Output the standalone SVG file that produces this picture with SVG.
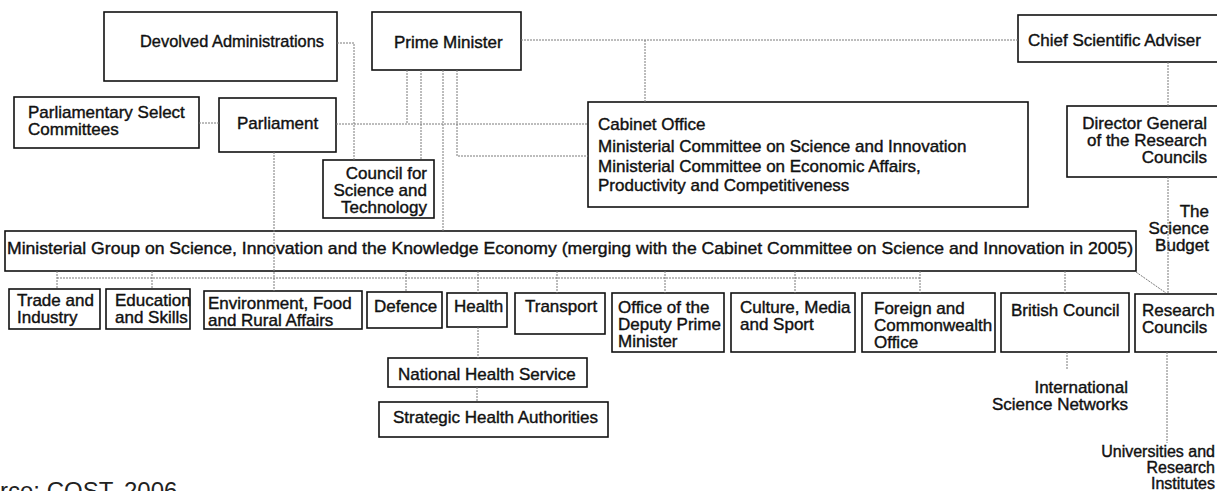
<svg xmlns="http://www.w3.org/2000/svg" width="1217" height="491" viewBox="0 0 1217 491">
  <style>
    .box { fill: #fff; stroke: #111; stroke-width: 1.6; }
    .t { font-family: "Liberation Sans", Arial, sans-serif; font-size: 17px; fill: #111; stroke: #111; stroke-width: 0.4; }
    .r { text-anchor: end; }
    .s16 { font-size: 16px; }
    .c { fill: none; stroke: #7a7a7a; stroke-width: 1; stroke-dasharray: 2 1; }
  </style>
  <rect width="1217" height="491" fill="#fff"/>

  <g id="devolved">
    <rect class="box" x="104" y="12" width="233" height="69"/>
    <text class="t" x="140" y="47" textLength="184" lengthAdjust="spacingAndGlyphs">Devolved Administrations</text>
  </g>
  <g id="prime-minister">
    <rect class="box" x="372" y="12" width="149" height="58"/>
    <text class="t" x="394" y="48">Prime Minister</text>
  </g>
  <g id="chief-scientific-adviser">
    <rect class="box" x="1018" y="15" width="205" height="47"/>
    <text class="t" x="1028" y="46">Chief Scientific Adviser</text>
  </g>
  <g id="select-committees">
    <rect class="box" x="14" y="97" width="185" height="51"/>
    <text class="t" x="28" y="118">Parliamentary Select</text>
    <text class="t" x="28" y="135">Committees</text>
  </g>
  <g id="parliament">
    <rect class="box" x="219" y="98" width="117" height="54"/>
    <text class="t" x="237" y="129">Parliament</text>
  </g>
  <g id="council">
    <rect class="box" x="323" y="160" width="111" height="58"/>
    <text class="t r" x="427" y="179">Council for</text>
    <text class="t r" x="427" y="196">Science and</text>
    <text class="t r" x="427" y="213">Technology</text>
  </g>
  <g id="cabinet-office">
    <rect class="box" x="588" y="102" width="440" height="105"/>
    <text class="t" x="598" y="130">Cabinet Office</text>
    <text class="t" x="598" y="152">Ministerial Committee on Science and Innovation</text>
    <text class="t" x="598" y="172">Ministerial Committee on Economic Affairs,</text>
    <text class="t" x="598" y="191">Productivity and Competitiveness</text>
  </g>
  <g id="director-general">
    <rect class="box" x="1067" y="106" width="160" height="71"/>
    <text class="t r" x="1207" y="129">Director General</text>
    <text class="t r" x="1207" y="146">of the Research</text>
    <text class="t r" x="1207" y="163">Councils</text>
  </g>
  <g id="science-budget">
    <text class="t r" x="1209" y="217">The</text>
    <text class="t r" x="1209" y="234">Science</text>
    <text class="t r" x="1209" y="251">Budget</text>
  </g>
  <g id="ministerial-group">
    <rect class="box" x="5" y="231" width="1131" height="40"/>
    <text class="t" x="7" y="254" textLength="1126" lengthAdjust="spacingAndGlyphs">Ministerial Group on Science, Innovation and the Knowledge Economy (merging with the Cabinet Committee on Science and Innovation in 2005)</text>
  </g>
  <g id="trade">
    <rect class="box" x="9" y="289" width="91" height="40"/>
    <text class="t" x="17" y="306">Trade and</text>
    <text class="t" x="17" y="323">Industry</text>
  </g>
  <g id="education">
    <rect class="box" x="106" y="289" width="84" height="40"/>
    <text class="t" x="115" y="306">Education</text>
    <text class="t" x="115" y="323">and Skills</text>
  </g>
  <g id="environment">
    <rect class="box" x="204" y="291" width="158" height="38"/>
    <text class="t" x="208" y="309">Environment, Food</text>
    <text class="t" x="208" y="326">and Rural Affairs</text>
  </g>
  <g id="defence">
    <rect class="box" x="367" y="292" width="75" height="36"/>
    <text class="t" x="374" y="312">Defence</text>
  </g>
  <g id="health">
    <rect class="box" x="447" y="293" width="60" height="34"/>
    <text class="t" x="454" y="312">Health</text>
  </g>
  <g id="transport">
    <rect class="box" x="515" y="293" width="90" height="41"/>
    <text class="t" x="525" y="312">Transport</text>
  </g>
  <g id="deputy-pm">
    <rect class="box" x="612" y="293" width="112" height="59"/>
    <text class="t" x="618" y="313">Office of the</text>
    <text class="t" x="618" y="330">Deputy Prime</text>
    <text class="t" x="618" y="347">Minister</text>
  </g>
  <g id="culture">
    <rect class="box" x="731" y="293" width="124" height="59"/>
    <text class="t" x="740" y="313">Culture, Media</text>
    <text class="t" x="740" y="330">and Sport</text>
  </g>
  <g id="foreign">
    <rect class="box" x="862" y="293" width="133" height="59"/>
    <text class="t" x="874" y="314">Foreign and</text>
    <text class="t" x="874" y="331">Commonwealth</text>
    <text class="t" x="874" y="348">Office</text>
  </g>
  <g id="british-council">
    <rect class="box" x="1001" y="293" width="128" height="59"/>
    <text class="t" x="1011" y="316">British Council</text>
  </g>
  <g id="research-councils">
    <rect class="box" x="1135" y="294" width="90" height="58"/>
    <text class="t" x="1142" y="316">Research</text>
    <text class="t" x="1142" y="333">Councils</text>
  </g>
  <g id="nhs">
    <rect class="box" x="388" y="358" width="199" height="29"/>
    <text class="t" x="398" y="380">National Health Service</text>
  </g>
  <g id="strategic-health">
    <rect class="box" x="379" y="402" width="229" height="35"/>
    <text class="t" x="393" y="423">Strategic Health Authorities</text>
  </g>
  <g id="science-networks">
    <text class="t r" x="1128" y="393">International</text>
    <text class="t r" x="1128" y="410">Science Networks</text>
  </g>
  <g id="universities">
    <text class="t r s16" x="1215" y="457">Universities and</text>
    <text class="t r s16" x="1215" y="473">Research</text>
    <text class="t r s16" x="1215" y="489">Institutes</text>
  </g>
  <g id="source">
    <text x="0" y="499" font-family="Liberation Sans, Arial, sans-serif" font-size="24" fill="#222">rce: COST, 2006</text>
  </g>

  <g id="connectors" class="c">
    <path d="M337,43 H354 V160"/>
    <path d="M199,123 H219"/>
    <path d="M336,124 H588"/>
    <path d="M407,70 V124"/>
    <path d="M421,70 V160"/>
    <path d="M443,70 V231"/>
    <path d="M457,70 V156 H588"/>
    <path d="M521,40 H1018"/>
    <path d="M645,40 V102"/>
    <path d="M1168,62 V106"/>
    <path d="M1168,177 V294"/>
    <path d="M274,152 V291"/>
    <path d="M57,278 H920"/>
    <path d="M57,271 V289"/>
    <path d="M152,271 V289"/>
    <path d="M406,271 V292"/>
    <path d="M478,271 V293"/>
    <path d="M557,271 V293"/>
    <path d="M665,271 V293"/>
    <path d="M795,271 V293"/>
    <path d="M920,271 V293"/>
    <path d="M1065,271 V293"/>
    <path d="M1136,272 L1166,293"/>
    <path d="M478,327 V358"/>
    <path d="M477,387 V402"/>
    <path d="M1067,352 V370"/>
    <path d="M1167,352 V443"/>
  </g>
</svg>
